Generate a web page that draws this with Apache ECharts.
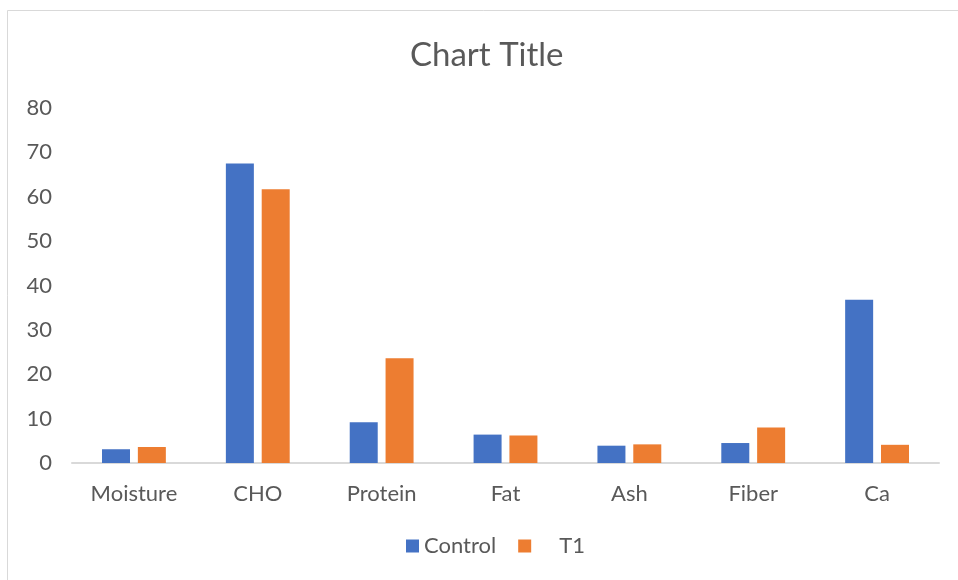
<!DOCTYPE html>
<html>
<head>
<meta charset="utf-8">
<style>
  html, body { margin: 0; padding: 0; background: #fff; }
  #chart { width: 958px; height: 580px; }
</style>
<script src="https://cdn.jsdelivr.net/npm/echarts@6/dist/echarts.min.js"></script>
</head>
<body>
<div id="chart"></div>
<script>
// Nutrient composition: Control vs T1
const categories = ['Moisture', 'CHO', 'Protein', 'Fat', 'Ash', 'Fiber', 'Ca'];
const controlValues = [3.1, 67.5, 9.2, 6.4, 3.9, 4.5, 36.8];
const t1Values = [3.6, 61.7, 23.6, 6.2, 4.2, 8.0, 4.1];
const yTicks = { min: 0, max: 80, interval: 10 };

const textColor = '#595959';
const fontFamily = 'Lato, "Open Sans", sans-serif';

const chart = echarts.init(document.getElementById('chart'), null, { renderer: 'canvas' });

chart.setOption({
  backgroundColor: '#ffffff',
  animation: false,
  textStyle: { fontFamily: fontFamily, color: textColor },
  graphic: [{
    type: 'rect',
    shape: { x: 7.5, y: 10.5, width: 1000, height: 620 },
    style: { fill: 'none', stroke: '#d9d9d9', lineWidth: 1 },
    silent: true,
    z: -1
  }],
  title: {
    text: 'Chart Title',
    left: 410,
    top: 39,
    padding: 0,
    textStyle: { fontFamily: fontFamily, fontSize: 33, fontWeight: 'normal', color: textColor }
  },
  legend: {
    top: 535,
    left: 406,
    padding: 0,
    icon: 'rect',
    itemWidth: 13,
    itemHeight: 13,
    itemGap: 22,
    textStyle: { fontFamily: fontFamily, fontSize: 22, color: textColor },
    data: [
      { name: 'Control' },
      { name: 'T1', textStyle: { padding: [0, 0, 0, 23] } }
    ]
  },
  grid: { left: 72, right: 19, top: 108, bottom: 117, containLabel: false },
  xAxis: {
    type: 'category',
    data: categories,
    axisTick: { show: false },
    axisLine: { lineStyle: { color: '#d9d9d9', width: 2 } },
    axisLabel: { color: textColor, fontSize: 22, margin: 20, fontFamily: fontFamily }
  },
  yAxis: {
    type: 'value',
    min: yTicks.min,
    max: yTicks.max,
    interval: yTicks.interval,
    splitLine: { show: false },
    axisLine: { show: false },
    axisTick: { show: false },
    axisLabel: { color: textColor, fontSize: 22, margin: 20, fontFamily: fontFamily }
  },
  series: [
    {
      name: 'Control',
      type: 'bar',
      data: controlValues,
      barWidth: 28,
      barGap: '28%',
      itemStyle: { color: '#4472C4' }
    },
    {
      name: 'T1',
      type: 'bar',
      data: t1Values,
      barWidth: 28,
      barGap: '28%',
      itemStyle: { color: '#ED7D31' }
    }
  ]
});
</script>
</body>
</html>
